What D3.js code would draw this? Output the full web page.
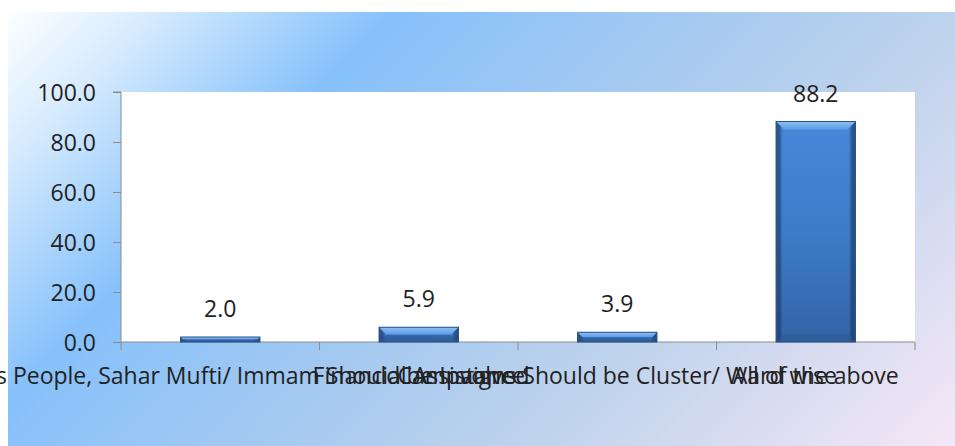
<!DOCTYPE html>
<html><head><meta charset="utf-8">
<script src="https://cdn.jsdelivr.net/npm/d3@7/dist/d3.min.js"></script>
<style>html,body{margin:0;padding:0;background:#fff;}svg{display:block;}</style>
</head><body>
<svg id="chart" width="955" height="446"></svg>
<script>
const categories = [
  "Religious People, Sahar Mufti/ Immam Should be Involved",
  "Financial Assistance",
  "Campaigns Should be Cluster/ Ward wise",
  "All of the above"
];
const values = [2.0, 5.9, 3.9, 88.2];
const yTicks = [0, 20, 40, 60, 80, 100];

const W = 955, H = 446;
const margin = {left: 121, right: 40, top: 92, bottom: 104};
const svg = d3.select("#chart");
const defs = svg.append("defs");

const bg = defs.append("linearGradient").attr("id","bg")
  .attr("gradientUnits","userSpaceOnUse").attr("x1",0).attr("y1",0).attr("x2",700).attr("y2",700);
[[0.01,"#ffffff"],[0.12,"#d6ebfe"],[0.29,"#86c1fb"],[0.5,"#a4c9f1"],[0.7,"#bfd3ec"],[1,"#f5e7f7"]]
  .forEach(([o,c]) => bg.append("stop").attr("offset",o).attr("stop-color",c));

const barG = defs.append("linearGradient").attr("id","barG").attr("x1",0).attr("y1",0).attr("x2",0).attr("y2",1);
[[0,"#4688d8"],[0.5,"#3d7cc9"],[1,"#3263a6"]].forEach(([o,c]) => barG.append("stop").attr("offset",o).attr("stop-color",c));
const sideG = defs.append("linearGradient").attr("id","sideG").attr("x1",0).attr("y1",0).attr("x2",1).attr("y2",0);
[[0,"#2d5c99"],[0.08,"rgba(0,0,0,0)"],[0.92,"rgba(0,0,0,0)"],[1,"#2a5590"]].forEach(([o,c]) => sideG.append("stop").attr("offset",o).attr("stop-color",c));
const topG = defs.append("linearGradient").attr("id","topG").attr("x1",0).attr("y1",0).attr("x2",0).attr("y2",1);
[[0,"#8cc0f4"],[1,"#5c9ce4"]].forEach(([o,c]) => topG.append("stop").attr("offset",o).attr("stop-color",c));

svg.append("rect").attr("x",8).attr("y",12).attr("width",W-8).attr("height",H-12).attr("fill","url(#bg)");

const x = d3.scaleBand().domain(categories).range([margin.left, W - margin.right]).paddingInner(0).paddingOuter(0);
const y = d3.scaleLinear().domain([0,100]).range([H - margin.bottom, margin.top]);

svg.append("rect").attr("x",x.range()[0]).attr("y",y(100)).attr("width",x.range()[1]-x.range()[0])
  .attr("height",y(0)-y(100)).attr("fill","#ffffff");

const font = "'Open Sans', sans-serif";
const fs = 23;

// y axis
const yAxis = svg.append("g").attr("transform",`translate(${margin.left},0)`)
  .call(d3.axisLeft(y).tickValues(yTicks).tickFormat(d3.format(".1f")).tickSize(8).tickPadding(17));
yAxis.select(".domain").attr("stroke","#8c8c8c").attr("d",`M-8,${y(100)}H0V${y(0)}`);
yAxis.selectAll(".tick line").attr("stroke","#8c8c8c");
yAxis.selectAll(".tick text").attr("font-family",font).attr("font-size",fs).attr("fill","#222").attr("dy","0.36em");

// x axis
const xAxis = svg.append("g").attr("transform",`translate(0,${y(0)})`)
  .call(d3.axisBottom(x).tickSize(0).tickPadding(0));
xAxis.select(".domain").attr("stroke","#8c8c8c").attr("d",`M${x.range()[0]},0H${x.range()[1]}`);
xAxis.selectAll(".tick line").remove();
xAxis.selectAll(".tick text").attr("font-family",font).attr("font-size",fs).attr("fill","#222").attr("dy",0).attr("y",42);
const bounds = categories.map(c => x(c)).concat([x.range()[1]]);
xAxis.selectAll(".sep").data(bounds).join("line").attr("class","sep")
  .attr("x1",d=>d).attr("x2",d=>d).attr("y1",0).attr("y2",8).attr("stroke","#8c8c8c");

// bars
const bw = x.bandwidth()*0.4;
const bars = svg.append("g").selectAll("g").data(values).join("g");
bars.each(function(v,i){
  const g = d3.select(this);
  const cx = x(categories[i]) + x.bandwidth()/2;
  const x0 = cx - bw/2, x1 = cx + bw/2, yt = y(v), yb = y(0);
  const h = yb - yt;
  g.append("rect").attr("x",x0).attr("y",yt).attr("width",bw).attr("height",h).attr("fill","url(#barG)");
  g.append("rect").attr("x",x0).attr("y",yt).attr("width",bw).attr("height",h).attr("fill","url(#sideG)");
  const b = Math.min(8, h/2);
  g.append("path").attr("d",`M${x0},${yt}H${x1}L${x1-b},${yt+b}H${x0+b}Z`).attr("fill","url(#topG)");
  g.append("path").attr("d",`M${x0},${yb}H${x1}L${x1-b},${yb-b}H${x0+b}Z`).attr("fill","#2c5a95").attr("opacity",0.6);
  g.append("rect").attr("x",x0).attr("y",yt).attr("width",bw).attr("height",h).attr("fill","none")
    .attr("stroke","#28508a").attr("stroke-width",1);
  g.append("text").attr("x",cx).attr("y",yt-20).attr("text-anchor","middle")
    .attr("font-family",font).attr("font-size",fs).attr("fill","#222").text(d3.format(".1f")(v));
});
</script>
</body></html>
